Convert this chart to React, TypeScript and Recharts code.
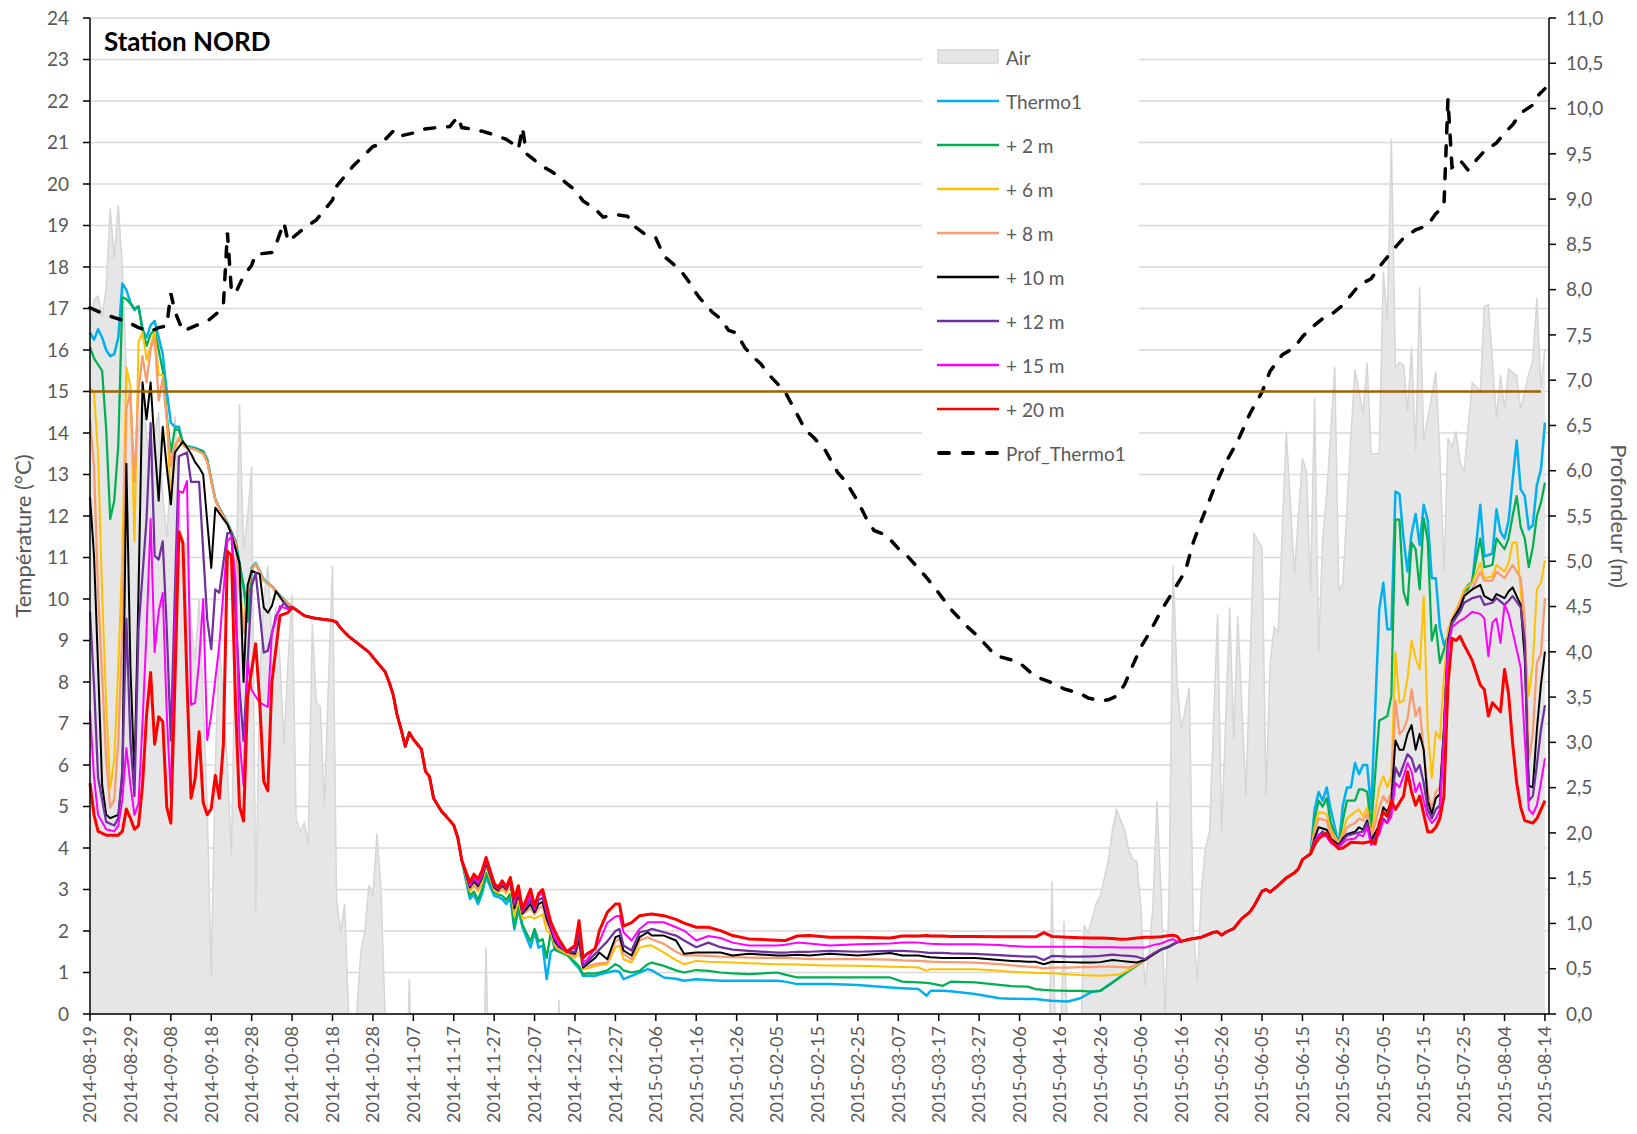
import React from 'react';
import {
    ComposedChart, Area, Line, XAxis, YAxis, CartesianGrid, ReferenceLine
} from 'recharts';

type Pt = [number, number];

const W = 1621;
const H = 1118;
// legend box (chart coords) - gridlines are hidden behind it
const LEGEND_LEFT = 914;
const LEGEND_RIGHT = 1131;

const dateTicks = [
    '2014-08-19', '2014-08-29', '2014-09-08', '2014-09-18', '2014-09-28', '2014-10-08',
    '2014-10-18', '2014-10-28', '2014-11-07', '2014-11-17', '2014-11-27', '2014-12-07',
    '2014-12-17', '2014-12-27', '2015-01-06', '2015-01-16', '2015-01-26', '2015-02-05',
    '2015-02-15', '2015-02-25', '2015-03-07', '2015-03-17', '2015-03-27', '2015-04-06',
    '2015-04-16', '2015-04-26', '2015-05-06', '2015-05-16', '2015-05-26', '2015-06-05',
    '2015-06-15', '2015-06-25', '2015-07-05', '2015-07-15', '2015-07-25', '2015-08-04',
    '2015-08-14',
];
const xTicks = dateTicks.map((_, i) => i * 10);
const tempTicks = [0, 1, 2, 3, 4, 5, 6, 7, 8, 9, 10, 11, 12, 13, 14, 15, 16, 17, 18, 19, 20, 21, 22, 23, 24];
const depthTicks = [0, 0.5, 1, 1.5, 2, 2.5, 3, 3.5, 4, 4.5, 5, 5.5, 6, 6.5, 7, 7.5, 8, 8.5, 9, 9.5, 10, 10.5, 11];

// day index (0 = 2014-08-19), value
const air: Pt[] = [
    [0, 16.5], [1, 17.2], [2, 17.3], [3, 16.8], [4, 17.5], [5, 19.4], [6, 18.2], [7, 19.5], [8, 18.0], [9, 15.5],
    [10, 14.5], [11, 13.0], [12, 14.0], [13, 15.0], [14, 14.0], [15, 13.0], [16, 14.0], [17, 14.5], [18, 12.5], [19, 11.5],
    [20, 13.0], [21, 14.4], [22, 12.5], [23, 10.5], [24, 11.5], [25, 9.5], [26, 8.5], [27, 10.0], [28, 7.5], [29, 5.0],
    [30, 0.9], [31, 6.0], [32, 9.0], [33, 7.5], [34, 6.0], [35, 3.8], [36, 9.5], [37, 14.7], [38, 11.2], [39, 12.0],
    [40, 13.2], [41, 2.5], [42, 8.0], [43, 10.0], [44, 10.8], [45, 9.0], [46, 9.8], [47, 8.5], [48, 6.5], [49, 8.5],
    [50, 10.1], [51, 4.7], [52, 4.4], [53, 4.6], [54, 4.1], [55, 9.4], [56, 7.5], [57, 7.4], [58, 5.0], [59, 8.0],
    [60, 10.8], [61, 2.8], [62, 1.95], [63, 2.65], [64, 0], [65, -2], [66, 0], [67, 1.5], [68, 2.0], [69, 3.1],
    [70, 2.85], [71, 4.35], [72, 3.0], [73, 0], [74, -3], [78, -3], [79, 0.85], [80, -3], [97, -3], [98, 1.6],
    [99, -3], [115, -3], [116, 0.35], [117, -3], [237, -3], [238, 3.2], [239, -1], [240, -1], [241, 2.24], [242, -1],
    [245, -1], [246, 2.12], [247, 1.96], [249, 2.68], [250, 2.84], [252, 3.72], [253, 4.44], [254, 4.92], [255, 4.68], [256, 4.44],
    [257, 3.96], [258, 3.72], [259, 3.68], [260, 2.6], [261, 0.68], [262, 1.5], [263, 2.6], [264, 5.12], [265, 3.0], [266, 0.04],
    [267, 2.84], [268, 10.8], [269, 8.0], [270, 6.85], [272, 7.87], [273, 2.0], [274, 0.8], [275, 3.0], [276, 4.0], [277, 4.39],
    [279, 9.64], [280, 4.39], [282, 9.8], [283, 6.64], [284, 9.59], [286, 5.25], [288, 11.57], [290, 11.25], [291, 5.25], [292, 8.46],
    [293, 9.32], [294, 9.21], [296, 14.04], [298, 10.6], [300, 13.39], [301, 13.07], [302, 10.18], [303, 14.84], [304, 8.73], [305, 11.46],
    [306, 12.53], [308, 15.59], [309, 10.18], [310, 10.39], [312, 13.93], [313, 15.54], [315, 14.46], [316, 15.7], [317, 13.5], [319, 13.5],
    [320, 17.89], [321, 16.71], [322, 21.1], [323, 15.59], [324, 15.7], [325, 15.64], [326, 14.52], [327, 16.07], [328, 13.55], [329, 17.52],
    [330, 13.82], [331, 14.36], [333, 15.48], [334, 13.5], [335, 10.66], [336, 13.87], [337, 13.66], [338, 14.04], [339, 13.28], [340, 13.07],
    [341, 14.14], [342, 15.21], [344, 15.0], [345, 17.04], [346, 17.09], [347, 15.75], [348, 14.36], [349, 15.4], [350, 14.57], [351, 15.54],
    [353, 15.38], [354, 14.57], [356, 15.43], [357, 15.75], [358, 17.25], [359, 15.11], [360, 16.02],
];

const profThermo1: Pt[] = [
    [0, 7.8], [3, 7.74], [6, 7.69], [9, 7.65], [12, 7.58], [15, 7.54], [17, 7.58], [19, 7.6], [20, 7.96], [21, 7.76],
    [23, 7.54], [26, 7.6], [29, 7.65], [32, 7.76], [33, 7.83], [34, 8.63], [35, 7.98], [36, 7.96], [38, 8.15], [40, 8.27],
    [41, 8.39], [45, 8.41], [46, 8.5], [48, 8.74], [49, 8.53], [53, 8.68], [56, 8.77], [58, 8.88], [60, 8.99], [61, 9.14],
    [65, 9.36], [70, 9.58], [72, 9.61], [75, 9.75], [76, 9.69], [80, 9.73], [82, 9.77], [86, 9.79], [89, 9.8], [91, 9.91],
    [92, 9.79], [95, 9.77], [97, 9.75], [100, 9.71], [103, 9.66], [105, 9.6], [106, 9.55], [107, 9.79], [108, 9.5], [110, 9.43],
    [112, 9.36], [114, 9.31], [116, 9.25], [118, 9.17], [120, 9.1], [122, 8.98], [125, 8.89], [127, 8.8], [130, 8.83], [133, 8.81],
    [135, 8.69], [138, 8.59], [140, 8.57], [142, 8.37], [146, 8.22], [148, 8.1], [150, 7.96], [151, 7.9], [154, 7.75], [156, 7.68],
    [158, 7.55], [160, 7.52], [162, 7.36], [164, 7.26], [166, 7.18], [168, 7.06], [172, 6.87], [175, 6.62], [177, 6.45], [179, 6.37],
    [182, 6.22], [185, 5.98], [187, 5.88], [190, 5.66], [192, 5.48], [194, 5.34], [197, 5.29], [200, 5.14], [202, 5.07], [205, 4.92],
    [207, 4.82], [210, 4.65], [213, 4.47], [217, 4.28], [219, 4.2], [222, 4.06], [224, 3.96], [228, 3.91], [230, 3.88], [233, 3.76],
    [235, 3.71], [239, 3.64], [241, 3.59], [245, 3.54], [247, 3.49], [250, 3.46], [252, 3.47], [254, 3.51], [256, 3.64], [258, 3.85],
    [260, 4.05], [262, 4.2], [265, 4.45], [268, 4.67], [271, 4.89], [273, 5.21], [275, 5.45], [278, 5.79], [281, 6.09], [284, 6.33],
    [287, 6.63], [290, 6.87], [292, 7.1], [295, 7.28], [298, 7.36], [300, 7.48], [302, 7.57], [305, 7.68], [307, 7.72], [310, 7.83],
    [312, 7.94], [314, 8.05], [317, 8.12], [319, 8.25], [321, 8.36], [323, 8.47], [325, 8.57], [328, 8.66], [331, 8.71], [333, 8.84],
    [335, 8.92], [336, 10.1], [337, 9.35], [338, 9.37], [339, 9.43], [341, 9.32], [343, 9.43], [345, 9.53], [348, 9.62], [350, 9.73],
    [352, 9.82], [354, 9.95], [357, 10.04], [358, 10.13], [360, 10.22],
];

// ---- temperature series, early summer 2014 (days 0-49) ----
const thermo1Early: Pt[] = [
    [0, 16.42], [1, 16.25], [2, 16.5], [3, 16.3], [4, 16.0], [5, 15.85], [6, 15.9], [7, 16.3], [8, 17.6], [9, 17.45],
    [10, 17.15], [11, 16.96], [12, 17.05], [13, 16.5], [14, 16.3], [15, 16.6], [16, 16.7], [17, 16.3], [18, 15.9], [19, 15.0],
    [20, 14.25], [21, 14.15], [22, 14.15], [23, 13.75], [24, 13.68], [26, 13.64], [28, 13.56], [29, 13.36], [31, 12.4], [32, 12.2],
    [34, 11.83], [36, 11.39], [38, 10.31], [39, 9.65], [40, 10.75], [41, 10.87], [42, 10.67], [43, 10.47], [45, 10.31], [46, 10.19],
    [48, 9.99],
];
const plus2Early: Pt[] = [
    [0, 16.07], [1, 15.8], [3, 15.5], [4, 14.1], [5, 11.93], [6, 12.37], [7, 13.7], [8, 17.27], [9, 17.23], [11, 17.0],
    [12, 17.05], [13, 16.5], [14, 16.1], [15, 16.38], [16, 16.5], [18, 15.5], [19, 14.42], [20, 13.53], [21, 14.1], [22, 14.07],
    [23, 13.75], [24, 13.68], [26, 13.62], [28, 13.55], [29, 13.35], [31, 12.4], [32, 12.2], [34, 11.83], [36, 11.39], [38, 10.3],
    [39, 9.45], [40, 10.7], [41, 10.85], [42, 10.65], [43, 10.45], [45, 10.3], [46, 10.18], [48, 9.98],
];
const plus6Early: Pt[] = [
    [0, 15.09], [1, 14.96], [2, 13.5], [3, 10.15], [4, 7.48], [5, 5.43], [6, 6.14], [7, 8.37], [8, 11.04], [9, 15.58],
    [10, 15.13], [11, 11.39], [12, 16.2], [13, 16.42], [14, 15.76], [15, 16.1], [16, 16.47], [17, 15.4], [18, 15.4], [19, 14.33],
    [20, 12.3], [21, 13.6], [22, 13.9], [23, 13.7], [24, 13.65], [26, 13.6], [28, 13.5], [29, 13.3], [31, 12.38], [32, 12.18],
    [34, 11.8], [36, 11.35], [38, 9.35], [39, 10.2], [40, 10.7], [41, 10.85], [42, 10.65], [43, 10.45], [45, 10.3], [46, 10.18],
    [48, 9.98],
];
const plus8Early: Pt[] = [
    [0, 14.33], [1, 13.17], [2, 10.15], [4, 6.14], [5, 4.98], [6, 5.16], [7, 6.59], [8, 9.26], [9, 14.6], [10, 14.96],
    [11, 12.82], [12, 15.04], [13, 15.85], [14, 15.22], [15, 16.02], [16, 16.29], [17, 14.78], [18, 15.31], [19, 14.33], [20, 13.2],
    [21, 13.7], [22, 13.85], [23, 13.7], [24, 13.65], [26, 13.6], [28, 13.5], [29, 13.3], [31, 12.38], [32, 12.18], [34, 11.8],
    [36, 11.35], [38, 9.19], [39, 10.2], [40, 10.7], [41, 10.85], [42, 10.65], [43, 10.45], [45, 10.3], [46, 10.18], [48, 9.98],
];
const plus10Early: Pt[] = [
    [0, 12.46], [1, 11.04], [2, 8.37], [3, 5.52], [4, 4.8], [5, 4.72], [7, 4.8], [8, 5.7], [9, 13.26], [10, 8.37],
    [11, 5.7], [12, 10.15], [13, 15.22], [14, 14.33], [15, 15.22], [16, 13.7], [17, 12.37], [18, 14.15], [19, 13.17], [20, 12.28],
    [21, 13.53], [23, 13.8], [25, 13.5], [26, 13.3], [27, 13.17], [28, 13.0], [30, 10.75], [31, 12.2], [33, 11.93], [34, 11.8],
    [35, 11.57], [37, 10.86], [38, 8.0], [39, 10.33], [40, 10.68], [42, 10.6], [43, 9.79], [44, 9.67], [45, 9.83], [46, 10.19],
    [48, 9.91], [49, 9.79],
];
const plus12Early: Pt[] = [
    [0, 9.7], [1, 7.92], [2, 5.7], [4, 4.63], [6, 4.54], [7, 4.72], [8, 5.87], [9, 9.52], [10, 6.59], [11, 5.25],
    [12, 9.26], [14, 11.93], [15, 14.24], [16, 11.04], [17, 10.95], [18, 11.39], [19, 9.26], [20, 6.59], [21, 10.15], [22, 13.44],
    [24, 13.53], [25, 12.82], [27, 12.82], [29, 9.51], [30, 8.79], [31, 10.23], [32, 10.15], [34, 11.59], [35, 11.59], [37, 7.83],
    [38, 6.58], [40, 10.31], [41, 10.63], [43, 8.71], [44, 8.75], [46, 9.59], [48, 9.91], [49, 9.79],
];
const plus15Early: Pt[] = [
    [0, 7.3], [1, 5.7], [2, 4.8], [4, 4.45], [6, 4.4], [7, 4.54], [8, 5.16], [9, 6.41], [10, 5.52], [11, 4.8],
    [12, 5.07], [13, 7.03], [14, 9.26], [15, 11.93], [16, 8.72], [17, 9.7], [18, 10.15], [19, 7.21], [20, 5.25], [21, 9.26],
    [22, 12.6], [23, 12.56], [24, 12.84], [25, 7.45], [26, 7.5], [27, 8.5], [28, 10.0], [29, 6.6], [30, 7.2], [32, 8.9],
    [34, 11.4], [35, 11.5], [36, 10.5], [37, 6.6], [38, 5.5], [39, 8.5], [40, 7.8], [42, 7.5], [44, 7.4], [45, 9.18],
    [47, 9.83], [49, 9.75],
];
const plus20Early: Pt[] = [
    [0, 5.56], [1, 4.8], [2, 4.4], [4, 4.31], [7, 4.31], [8, 4.4], [9, 4.94], [10, 4.72], [11, 4.45], [12, 4.54],
    [13, 5.52], [14, 7.21], [15, 8.23], [16, 6.5], [17, 7.16], [18, 7.05], [19, 4.98], [20, 4.6], [21, 7.92], [22, 11.62],
    [23, 11.35], [24, 8.0], [25, 5.2], [26, 5.66], [27, 6.8], [28, 5.1], [29, 4.8], [30, 4.95], [31, 5.75], [32, 5.2],
    [33, 6.5], [34, 11.15], [35, 11.05], [36, 7.5], [37, 5.0], [38, 4.65], [39, 7.65], [41, 8.92], [42, 7.5], [43, 5.6],
    [44, 5.38], [45, 8.0], [47, 9.6], [49, 9.67],
];

// autumn cooling, all depths on the same curve (days 50-92)
const autumnDecline: Pt[] = [
    [50, 9.8], [51, 9.74], [53, 9.6], [55, 9.55], [57, 9.52], [60, 9.48], [61, 9.44], [62, 9.3], [63, 9.2], [64, 9.1],
    [66, 8.95], [69, 8.72], [71, 8.48], [73, 8.25], [74, 8.0], [75, 7.7], [76, 7.2], [77, 6.85], [78, 6.45], [79, 6.78],
    [80, 6.62], [82, 6.38], [83, 5.85], [84, 5.72], [85, 5.2], [87, 4.88], [88, 4.78], [90, 4.55], [91, 4.25], [92, 3.7],
];

// winter (days 94-269), one value per series for each day of midDays
const midDays = [
    94, 95, 96, 97, 98, 100, 101, 102, 103, 104,
    105, 106, 107, 109, 110, 111, 112, 113, 114, 115,
    116, 118, 120, 121, 122, 123, 125, 126, 128, 130,
    131, 132, 134, 136, 138, 139, 142, 145, 147, 150,
    153, 156, 159, 163, 170, 172, 175, 178, 183, 190,
    198, 201, 205, 207, 208, 211, 213, 219, 225, 228,
    232, 234, 236, 238, 242, 245, 248, 250, 253, 255,
    257, 259, 261, 263, 265, 267, 268, 269,
];
const thermo1Mid = [
    2.77, 2.88, 2.65, 2.90, 3.30, 2.85, 2.82, 2.77, 2.65, 2.81,
    2.04, 2.53, 2.09, 1.60, 1.97, 1.60, 1.65, 0.84, 1.50, 1.57,
    1.55, 1.45, 1.20, 1.10, 0.92, 0.92, 0.92, 0.95, 1.00, 1.04,
    1.02, 0.84, 0.92, 1.00, 1.08, 1.05, 0.88, 0.85, 0.80, 0.84,
    0.82, 0.80, 0.80, 0.80, 0.80, 0.78, 0.72, 0.72, 0.72, 0.70,
    0.64, 0.62, 0.60, 0.44, 0.56, 0.56, 0.55, 0.48, 0.38, 0.37,
    0.36, 0.36, 0.34, 0.32, 0.30, 0.38, 0.54, 0.56, 0.76, 0.90,
    1.04, 1.17, 1.30, 1.43, 1.55, 1.62, 1.68, 1.73,
];
const plus2Mid = [
    2.85, 2.95, 2.75, 3.00, 3.40, 2.92, 2.88, 2.85, 2.75, 2.90,
    2.10, 2.60, 2.15, 1.75, 2.05, 1.75, 1.80, 1.35, 1.97, 1.55,
    1.50, 1.42, 1.25, 1.15, 0.96, 0.98, 0.98, 1.00, 1.05, 1.20,
    1.15, 1.05, 1.00, 1.04, 1.20, 1.24, 1.16, 1.05, 1.00, 1.06,
    1.04, 1.00, 0.98, 0.96, 1.00, 0.95, 0.88, 0.88, 0.88, 0.88,
    0.88, 0.78, 0.76, 0.75, 0.74, 0.68, 0.78, 0.76, 0.70, 0.67,
    0.66, 0.60, 0.58, 0.57, 0.56, 0.56, 0.54, 0.56, 0.76, 0.90,
    1.04, 1.17, 1.30, 1.43, 1.55, 1.62, 1.68, 1.73,
];
const plus6Mid = [
    2.95, 3.10, 2.95, 3.15, 3.55, 2.98, 2.92, 3.00, 2.90, 3.10,
    2.35, 2.75, 2.30, 2.35, 2.30, 2.35, 2.40, 2.00, 1.95, 1.65,
    1.55, 1.45, 1.35, 1.50, 1.08, 1.10, 1.15, 1.18, 1.20, 1.60,
    1.65, 1.32, 1.24, 1.60, 1.65, 1.65, 1.48, 1.30, 1.20, 1.28,
    1.26, 1.25, 1.24, 1.22, 1.20, 1.20, 1.19, 1.18, 1.17, 1.16,
    1.14, 1.13, 1.12, 1.04, 1.08, 1.08, 1.08, 1.08, 1.04, 1.02,
    1.00, 0.99, 0.99, 0.98, 0.96, 0.94, 0.93, 0.92, 0.94, 0.96,
    1.06, 1.18, 1.30, 1.43, 1.55, 1.62, 1.68, 1.73,
];
const plus8Mid = [
    3.00, 3.15, 3.00, 3.22, 3.60, 3.02, 2.95, 3.05, 2.95, 3.15,
    2.50, 2.85, 2.40, 2.55, 2.40, 2.55, 2.60, 2.20, 2.00, 1.70,
    1.60, 1.48, 1.40, 1.70, 1.12, 1.15, 1.20, 1.22, 1.24, 1.75,
    1.81, 1.45, 1.32, 1.77, 1.85, 1.80, 1.69, 1.50, 1.41, 1.41,
    1.40, 1.38, 1.37, 1.36, 1.35, 1.35, 1.34, 1.32, 1.32, 1.32,
    1.31, 1.29, 1.28, 1.27, 1.26, 1.25, 1.25, 1.24, 1.20, 1.17,
    1.14, 1.13, 1.10, 1.12, 1.12, 1.13, 1.13, 1.14, 1.14, 1.13,
    1.12, 1.19, 1.30, 1.43, 1.55, 1.62, 1.68, 1.73,
];
const plus10Mid = [
    3.05, 3.20, 3.08, 3.28, 3.65, 3.05, 2.98, 3.10, 3.00, 3.20,
    2.55, 2.90, 2.42, 2.65, 2.45, 2.65, 2.70, 2.30, 2.05, 1.75,
    1.62, 1.50, 1.45, 1.80, 1.12, 1.20, 1.35, 1.48, 1.32, 1.85,
    1.89, 1.53, 1.41, 1.85, 1.97, 1.89, 1.89, 1.77, 1.45, 1.48,
    1.48, 1.48, 1.41, 1.45, 1.41, 1.41, 1.43, 1.41, 1.45, 1.41,
    1.47, 1.41, 1.41, 1.38, 1.37, 1.35, 1.35, 1.35, 1.30, 1.28,
    1.26, 1.26, 1.20, 1.26, 1.25, 1.24, 1.24, 1.25, 1.30, 1.28,
    1.26, 1.24, 1.30, 1.43, 1.55, 1.62, 1.68, 1.73,
];
const plus12Mid = [
    3.08, 3.25, 3.12, 3.32, 3.68, 3.08, 3.00, 3.13, 3.02, 3.23,
    2.62, 2.95, 2.45, 2.75, 2.50, 2.75, 2.80, 2.40, 2.10, 1.80,
    1.65, 1.50, 1.50, 1.90, 1.16, 1.25, 1.45, 1.55, 1.75, 2.00,
    2.05, 1.65, 1.53, 1.97, 2.01, 2.05, 1.97, 1.89, 1.77, 1.61,
    1.72, 1.61, 1.55, 1.52, 1.48, 1.48, 1.50, 1.50, 1.52, 1.50,
    1.52, 1.52, 1.50, 1.48, 1.47, 1.47, 1.46, 1.45, 1.42, 1.40,
    1.38, 1.38, 1.30, 1.40, 1.38, 1.38, 1.39, 1.40, 1.43, 1.41,
    1.40, 1.38, 1.32, 1.45, 1.56, 1.63, 1.68, 1.73,
];
const plus15Mid = [
    3.12, 3.30, 3.18, 3.38, 3.72, 3.12, 3.02, 3.17, 3.04, 3.26,
    2.70, 3.00, 2.50, 2.85, 2.55, 2.85, 2.90, 2.50, 2.15, 1.85,
    1.70, 1.50, 1.60, 2.10, 1.25, 1.30, 1.60, 1.73, 2.20, 2.35,
    2.37, 1.97, 1.77, 2.05, 2.21, 2.21, 2.21, 2.09, 2.01, 1.77,
    1.88, 1.83, 1.72, 1.65, 1.65, 1.67, 1.72, 1.70, 1.65, 1.68,
    1.70, 1.72, 1.72, 1.70, 1.69, 1.68, 1.68, 1.68, 1.66, 1.64,
    1.62, 1.62, 1.62, 1.62, 1.62, 1.62, 1.61, 1.61, 1.61, 1.60,
    1.60, 1.60, 1.60, 1.66, 1.70, 1.78, 1.80, 1.75,
];
const plus20Mid = [
    3.17, 3.37, 3.25, 3.45, 3.77, 3.15, 3.05, 3.21, 3.06, 3.29,
    2.77, 3.09, 2.53, 3.01, 2.60, 2.90, 3.00, 2.60, 2.22, 2.00,
    1.80, 1.50, 1.65, 2.25, 1.35, 1.45, 1.57, 2.00, 2.45, 2.65,
    2.65, 2.12, 2.20, 2.37, 2.40, 2.41, 2.37, 2.28, 2.19, 2.09,
    2.09, 2.01, 1.89, 1.81, 1.78, 1.77, 1.88, 1.89, 1.85, 1.85,
    1.83, 1.88, 1.88, 1.89, 1.88, 1.88, 1.87, 1.87, 1.86, 1.86,
    1.86, 1.86, 1.96, 1.87, 1.85, 1.84, 1.83, 1.83, 1.82, 1.80,
    1.81, 1.83, 1.85, 1.85, 1.86, 1.89, 1.90, 1.87,
];

// spring warming, all depths together (days 270-302)
const springRise: Pt[] = [
    [270, 1.75], [272, 1.8], [275, 1.85], [278, 1.97], [279, 1.98], [280, 1.9], [281, 1.97], [283, 2.06], [285, 2.3], [287, 2.46],
    [288, 2.6], [290, 2.96], [291, 3.0], [292, 2.94], [294, 3.1], [296, 3.28], [298, 3.4], [299, 3.5], [300, 3.72], [302, 3.86],
];

// summer 2015 (days 303-360)
const thermo1Late: Pt[] = [
    [303, 4.93], [304, 5.35], [305, 5.14], [306, 5.46], [307, 4.93], [309, 4.07], [310, 5.03], [311, 5.46], [312, 5.46], [313, 6.05],
    [314, 5.78], [315, 6.0], [316, 6.0], [317, 4.93], [319, 9.75], [320, 10.39], [321, 9.27], [322, 9.27], [323, 12.59], [324, 12.53],
    [325, 11.46], [326, 10.66], [327, 11.57], [328, 12.05], [329, 11.3], [330, 12.27], [331, 11.89], [332, 10.5], [333, 10.5], [334, 9.32],
    [335, 8.89], [336, 9.1], [337, 9.43], [339, 9.75], [340, 10.18], [341, 10.34], [342, 10.39], [344, 12.27], [345, 11.03], [347, 11.09],
    [348, 12.16], [349, 11.62], [350, 11.46], [351, 11.89], [352, 12.86], [353, 13.82], [354, 12.64], [355, 12.48], [356, 11.68], [357, 11.78],
    [358, 12.75], [359, 13.12], [360, 14.25],
];
const plus2Late: Pt[] = [
    [303, 4.71], [304, 5.14], [305, 5.0], [306, 5.2], [307, 4.6], [309, 4.07], [310, 4.66], [311, 5.14], [313, 5.14], [314, 5.41],
    [315, 5.41], [316, 5.35], [317, 4.5], [319, 7.07], [320, 7.12], [321, 7.18], [322, 7.66], [323, 11.91], [324, 11.91], [325, 10.18],
    [326, 9.86], [327, 11.36], [328, 11.2], [329, 10.23], [330, 11.95], [331, 11.41], [332, 9.0], [333, 9.37], [334, 8.46], [335, 8.78],
    [336, 9.1], [337, 9.37], [339, 9.75], [340, 10.07], [342, 10.44], [344, 11.46], [345, 10.77], [347, 10.82], [348, 11.46], [350, 11.2],
    [351, 11.46], [352, 12.0], [353, 12.48], [354, 11.73], [355, 11.46], [356, 10.77], [357, 11.25], [358, 12.0], [359, 12.32], [360, 12.8],
];
const plus6Late: Pt[] = [
    [303, 4.5], [304, 4.87], [306, 4.82], [307, 4.44], [309, 4.12], [310, 4.39], [311, 4.71], [313, 4.87], [314, 4.93], [315, 4.76],
    [316, 4.98], [317, 4.28], [319, 5.46], [320, 5.73], [321, 5.46], [322, 5.73], [323, 8.73], [324, 7.5], [325, 7.55], [326, 8.09],
    [327, 9.0], [328, 8.57], [329, 8.3], [330, 10.07], [331, 6.85], [332, 5.68], [333, 6.8], [334, 6.64], [335, 8.14], [336, 9.27],
    [337, 9.53], [339, 9.96], [340, 10.23], [342, 10.39], [344, 10.87], [345, 10.5], [347, 10.55], [348, 10.82], [350, 10.66], [351, 10.87],
    [352, 11.36], [353, 11.36], [354, 10.18], [355, 9.0], [356, 7.66], [357, 8.46], [358, 10.23], [359, 10.39], [360, 10.93],
];
const plus8Late: Pt[] = [
    [303, 4.39], [304, 4.71], [306, 4.66], [307, 4.33], [309, 4.12], [310, 4.28], [311, 4.5], [313, 4.6], [314, 4.71], [315, 4.66],
    [316, 4.82], [317, 4.23], [319, 4.98], [320, 5.25], [321, 5.09], [322, 5.35], [323, 7.55], [324, 6.75], [325, 6.85], [326, 7.12],
    [327, 7.82], [328, 7.18], [329, 7.39], [330, 6.32], [331, 5.35], [332, 4.93], [333, 5.35], [334, 5.46], [335, 6.85], [336, 9.1],
    [337, 9.37], [339, 9.91], [340, 10.12], [342, 10.23], [344, 10.66], [345, 10.44], [347, 10.44], [348, 10.66], [350, 10.5], [351, 10.66],
    [352, 10.82], [354, 10.5], [355, 9.5], [356, 6.1], [357, 6.75], [358, 8.46], [359, 8.68], [360, 10.02],
];
const plus10Late: Pt[] = [
    [303, 4.23], [304, 4.5], [306, 4.44], [307, 4.23], [309, 4.07], [310, 4.23], [311, 4.33], [313, 4.39], [314, 4.5], [315, 4.44],
    [316, 4.66], [317, 4.18], [319, 4.55], [320, 4.98], [321, 4.87], [322, 5.14], [323, 6.59], [324, 6.37], [325, 6.37], [326, 6.75],
    [327, 6.96], [328, 6.37], [329, 6.75], [330, 6.37], [331, 5.14], [332, 4.82], [333, 5.2], [334, 5.3], [335, 6.85], [336, 9.0],
    [337, 9.48], [339, 9.8], [340, 10.07], [342, 10.23], [344, 10.34], [345, 10.07], [347, 9.96], [348, 10.12], [350, 10.02], [351, 10.18],
    [352, 10.28], [353, 10.07], [354, 9.86], [355, 8.57], [356, 5.5], [357, 5.46], [358, 6.85], [359, 7.93], [360, 8.73],
];
const plus12Late: Pt[] = [
    [303, 4.18], [305, 4.4], [307, 4.15], [309, 4.05], [311, 4.3], [313, 4.35], [315, 4.4], [316, 4.6], [317, 4.12], [319, 4.44],
    [320, 4.71], [321, 4.6], [322, 4.93], [323, 5.94], [324, 5.73], [325, 6.0], [326, 6.26], [327, 6.16], [328, 5.84], [329, 6.0],
    [330, 5.57], [331, 4.93], [332, 4.71], [333, 4.93], [334, 5.03], [335, 6.85], [336, 8.89], [337, 9.43], [339, 9.69], [340, 9.91],
    [342, 10.02], [344, 10.07], [345, 9.86], [347, 9.91], [348, 10.02], [350, 9.86], [351, 9.96], [352, 10.07], [354, 9.8], [355, 9.0],
    [356, 5.14], [357, 5.25], [358, 6.0], [359, 6.85], [360, 7.44],
];
const plus15Late: Pt[] = [
    [303, 4.12], [304, 4.33], [306, 4.28], [307, 4.12], [309, 4.01], [310, 4.12], [311, 4.2], [313, 4.23], [314, 4.33], [315, 4.28],
    [316, 4.5], [317, 4.07], [319, 4.33], [320, 4.66], [321, 4.6], [322, 4.76], [323, 5.57], [324, 5.46], [325, 5.73], [326, 6.05],
    [327, 5.84], [328, 5.35], [329, 5.57], [330, 5.14], [331, 4.76], [332, 4.6], [333, 4.71], [334, 4.93], [335, 6.53], [336, 8.78],
    [337, 9.32], [339, 9.48], [340, 9.53], [342, 9.69], [344, 9.64], [345, 9.53], [346, 8.62], [347, 9.43], [348, 9.53], [349, 8.94],
    [350, 9.86], [351, 9.64], [352, 9.21], [354, 8.35], [355, 6.64], [356, 4.93], [357, 4.82], [358, 5.03], [359, 5.57], [360, 6.16],
];
const plus20Late: Pt[] = [
    [303, 4.07], [304, 4.23], [306, 4.36], [307, 4.18], [309, 3.98], [310, 4.0], [312, 4.14], [315, 4.12], [317, 4.16], [318, 4.1],
    [319, 4.6], [320, 4.87], [321, 4.76], [322, 5.14], [323, 4.93], [325, 5.25], [326, 5.84], [327, 5.35], [328, 5.03], [329, 5.25],
    [330, 4.82], [331, 4.39], [332, 4.39], [333, 4.5], [334, 4.71], [335, 5.25], [336, 7.93], [337, 9.05], [338, 9.0], [339, 9.1],
    [340, 8.89], [342, 8.52], [344, 7.93], [345, 7.82], [346, 7.18], [347, 7.5], [348, 7.39], [349, 7.28], [350, 8.3], [351, 7.71],
    [352, 6.53], [353, 5.57], [354, 4.98], [355, 4.66], [357, 4.6], [358, 4.71], [360, 5.14],
];

const zip = (days: number[], vals: number[]): Pt[] =>
    days.map((d, i) => [d, vals[i]] as Pt).filter((p) => typeof p[1] === 'number');

const tempSeries = [
    { key: 'thermo1', name: 'Thermo1', color: '#00b0f0', width: 2.5, pts: [...thermo1Early, ...autumnDecline, ...zip(midDays, thermo1Mid), ...springRise, ...thermo1Late] },
    { key: 'p2', name: '+ 2 m', color: '#00b050', width: 2.25, pts: [...plus2Early, ...autumnDecline, ...zip(midDays, plus2Mid), ...springRise, ...plus2Late] },
    { key: 'p6', name: '+ 6 m', color: '#ffc000', width: 2, pts: [...plus6Early, ...autumnDecline, ...zip(midDays, plus6Mid), ...springRise, ...plus6Late] },
    { key: 'p8', name: '+ 8 m', color: '#fa9a6e', width: 2.25, pts: [...plus8Early, ...autumnDecline, ...zip(midDays, plus8Mid), ...springRise, ...plus8Late] },
    { key: 'p10', name: '+ 10 m', color: '#000000', width: 2, pts: [...plus10Early, ...autumnDecline, ...zip(midDays, plus10Mid), ...springRise, ...plus10Late] },
    { key: 'p12', name: '+ 12 m', color: '#7030a0', width: 2.25, pts: [...plus12Early, ...autumnDecline, ...zip(midDays, plus12Mid), ...springRise, ...plus12Late] },
    { key: 'p15', name: '+ 15 m', color: '#ff00ff', width: 2, pts: [...plus15Early, ...autumnDecline, ...zip(midDays, plus15Mid), ...springRise, ...plus15Late] },
    { key: 'p20', name: '+ 20 m', color: '#ff0000', width: 3, pts: [...plus20Early, ...autumnDecline, ...zip(midDays, plus20Mid), ...springRise, ...plus20Late] },
];

// merge everything into one table keyed by day
const buildTable = () => {
    const rows = new Map<number, Record<string, number>>();
    const put = (key: string, pts: Pt[]) => {
        pts.forEach(([d, v]) => {
            const r = rows.get(d) ?? { d };
            r[key] = v;
            rows.set(d, r);
        });
    };
    put('air', air);
    put('prof', profThermo1);
    tempSeries.forEach((s) => put(s.key, s.pts));
    return Array.from(rows.values()).sort((a, b) => a.d - b.d);
};
const table = buildTable();

const GRID = '#d9d9d9';
const TEXT = '#595959';
const FONT = 'Lato, "Open Sans", sans-serif';

const gridLine = (p: any) => {
    const { x1, x2, y1, index } = p;
    const style = { stroke: GRID, strokeWidth: 1.5 };
    if (y1 > 30 && y1 < 490) {
        return (
            <g key={`gl-${index}`}>
                <line x1={x1} x2={LEGEND_LEFT} y1={y1} y2={y1} {...style} />
                <line x1={LEGEND_RIGHT} x2={x2} y1={y1} y2={y1} {...style} />
            </g>
        );
    }
    return <line key={`gl-${index}`} x1={x1} x2={x2} y1={y1} y2={y1} {...style} />;
};

const DateTick = (props: any) => {
    const { x, y, payload } = props;
    const label = dateTicks[Math.round(payload.value / 10)];
    return (
        <text
            x={x}
            y={y}
            dy="0.35em"
            transform={`rotate(-90, ${x}, ${y})`}
            textAnchor="end"
            fill={TEXT}
            fontSize={18}
            fontFamily={FONT}
        >
            {label}
        </text>
    );
};

const Legend = () => {
    const items = [
        { name: 'Air', kind: 'area', color: '#e6e6e6' },
        ...tempSeries.map((s) => ({ name: s.name, kind: 'line', color: s.color })),
        { name: 'Prof_Thermo1', kind: 'dash', color: '#000' },
    ];
    return (
        <>
            {items.map((it, i) => (
                <div
                    key={it.name}
                    style={{
                        position: 'absolute', left: 929, top: 49 + i * 44 - 12, height: 24,
                        display: 'flex', alignItems: 'center', fontFamily: FONT, fontSize: 19, color: TEXT,
                        whiteSpace: 'nowrap',
                    }}
                >
                    <svg width={62} height={24} style={{ marginRight: 7 }}>
                        {it.kind === 'area' && <rect x={1} y={5} width={60} height={13} fill="#e6e6e6" stroke="#d4d4d4" strokeWidth={1.5} />}
                        {it.kind === 'line' && <line x1={0} x2={62} y1={12} y2={12} stroke={it.color} strokeWidth={2.5} />}
                        {it.kind === 'dash' && <line x1={2} x2={60} y1={12} y2={12} stroke="#000" strokeWidth={4} strokeDasharray="10 14" strokeLinecap="round" />}
                    </svg>
                    <span>{it.name}</span>
                </div>
            ))}
        </>
    );
};

const App: React.FC = () => {
    return (
        <div style={{ position: 'relative', width: W, height: H, background: '#fff' }}>
            {/* let the top tick labels (24 / 11,0) spill into the page margin */}
            <style>{'.recharts-wrapper svg { overflow: visible; }'}</style>
            <ComposedChart width={W} height={H} data={table} margin={{ top: 10, right: 0, bottom: 0, left: 0 }}>
                <CartesianGrid yAxisId="t" vertical={false} horizontal={gridLine} />
                <XAxis
                    dataKey="d"
                    type="number"
                    domain={[0, 361]}
                    ticks={xTicks}
                    interval={0}
                    height={112}
                    tickSize={7}
                    tickMargin={5}
                    tick={<DateTick />}
                    axisLine={{ stroke: '#000', strokeWidth: 1.5 }}
                    tickLine={{ stroke: '#000', strokeWidth: 1.5 }}
                />
                <YAxis
                    yAxisId="t"
                    domain={[0, 24]}
                    ticks={tempTicks}
                    interval={0}
                    allowDataOverflow
                    width={82}
                    tickSize={7}
                    tickMargin={14}
                    tick={{ fill: TEXT, fontSize: 19, fontFamily: FONT }}
                    axisLine={{ stroke: '#000', strokeWidth: 1.5 }}
                    tickLine={{ stroke: '#000', strokeWidth: 1.5 }}
                />
                <YAxis
                    yAxisId="p"
                    orientation="right"
                    domain={[0, 11]}
                    ticks={depthTicks}
                    interval={0}
                    width={80}
                    tickSize={7}
                    tickMargin={10}
                    tickFormatter={(v: number) => v.toFixed(1).replace('.', ',')}
                    tick={{ fill: TEXT, fontSize: 19, fontFamily: FONT }}
                    axisLine={{ stroke: '#000', strokeWidth: 1.5 }}
                    tickLine={{ stroke: '#000', strokeWidth: 1.5 }}
                />
                <Area
                    yAxisId="t"
                    dataKey="air"
                    name="Air"
                    type="linear"
                    stroke="#d6d6d6"
                    strokeWidth={1.5}
                    fill="#e6e6e6"
                    fillOpacity={1}
                    connectNulls
                    dot={false}
                    activeDot={false}
                    isAnimationActive={false}
                />
                {tempSeries.map((s) => (
                    <Line
                        key={s.key}
                        yAxisId="t"
                        dataKey={s.key}
                        name={s.name}
                        type="linear"
                        stroke={s.color}
                        strokeWidth={s.width}
                        strokeLinejoin="round"
                        connectNulls
                        dot={false}
                        activeDot={false}
                        isAnimationActive={false}
                    />
                ))}
                <Line
                    yAxisId="p"
                    dataKey="prof"
                    name="Prof_Thermo1"
                    type="linear"
                    stroke="#000"
                    strokeWidth={3.5}
                    strokeDasharray="10 13"
                    strokeLinecap="round"
                    connectNulls
                    dot={false}
                    activeDot={false}
                    isAnimationActive={false}
                />
                <ReferenceLine
                    yAxisId="t"
                    segment={[{ x: 0, y: 15 }, { x: 359, y: 15 }]}
                    stroke="#9c6500"
                    strokeWidth={2.5}
                />
            </ComposedChart>

            <div style={{ position: 'absolute', left: 96, top: 20, fontFamily: FONT, fontWeight: 700, fontSize: 26, color: '#000', lineHeight: 1 }}>
                Station NORD
            </div>
            <div
                style={{
                    position: 'absolute', left: 14, top: 528, transform: 'translate(-50%, -50%) rotate(-90deg)',
                    fontFamily: FONT, fontSize: 22, color: TEXT, whiteSpace: 'nowrap',
                }}
            >
                Température (°C)
            </div>
            <div
                style={{
                    position: 'absolute', left: 1611, top: 508, transform: 'translate(-50%, -50%) rotate(90deg)',
                    fontFamily: FONT, fontSize: 22, color: TEXT, whiteSpace: 'nowrap',
                }}
            >
                Profondeur (m)
            </div>
            <Legend />
        </div>
    );
};

export default App;
